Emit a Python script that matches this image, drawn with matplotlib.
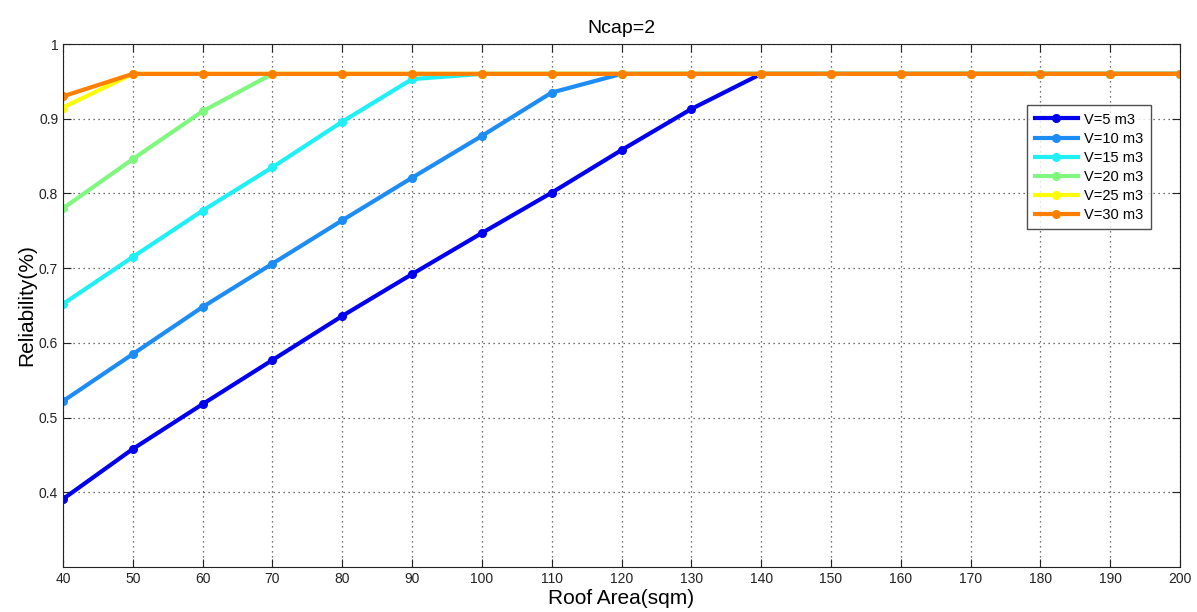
import numpy as np
import matplotlib
matplotlib.use("Agg")
import matplotlib.pyplot as plt

# Datos
area = [40, 50, 60, 70, 80, 90, 100, 110, 120, 130, 140, 150, 160, 170, 180, 190, 200]
v5 = [0.391, 0.458, 0.518, 0.577, 0.636, 0.692, 0.747, 0.801, 0.858, 0.913, 0.96,
      0.96, 0.96, 0.96, 0.96, 0.96, 0.96]
v10 = [0.522, 0.585, 0.648, 0.706, 0.764, 0.821, 0.877, 0.935, 0.96, 0.96, 0.96,
       0.96, 0.96, 0.96, 0.96, 0.96, 0.96]
v15 = [0.652, 0.715, 0.777, 0.835, 0.896, 0.953, 0.96, 0.96, 0.96, 0.96, 0.96,
       0.96, 0.96, 0.96, 0.96, 0.96, 0.96]
v20 = [0.78, 0.846, 0.91, 0.96, 0.96, 0.96, 0.96, 0.96, 0.96, 0.96, 0.96,
       0.96, 0.96, 0.96, 0.96, 0.96, 0.96]
v25 = [0.915, 0.96, 0.96, 0.96, 0.96, 0.96, 0.96, 0.96, 0.96, 0.96, 0.96,
       0.96, 0.96, 0.96, 0.96, 0.96, 0.96]
v30 = [0.93, 0.96, 0.96, 0.96, 0.96, 0.96, 0.96, 0.96, 0.96, 0.96, 0.96,
       0.96, 0.96, 0.96, 0.96, 0.96, 0.96]

series = [v5, v10, v15, v20, v25, v30]
labels = ['V=5 m3', 'V=10 m3', 'V=15 m3', 'V=20 m3', 'V=25 m3', 'V=30 m3']
colors = ['#0000ee', '#1e8cf5', '#1ef0f5', '#80f880', '#ffff00', '#ff8000']

plt.rcParams['font.family'] = ['Liberation Sans', 'DejaVu Sans']

fig = plt.figure(figsize=(11.97, 6.12), dpi=100)
ax = fig.add_axes([63 / 1197, 1 - 567 / 612, 1117 / 1197, 523 / 612])

for y, lab, c in zip(series, labels, colors):
    ax.plot(area, y, '-', color=c, lw=3, marker='o', ms=5.5, label=lab)

ax.set_xlim(40, 200)
ax.set_ylim(0.3, 1.0)
ax.set_xticks(np.arange(40, 201, 10))
ax.set_yticks([0.4, 0.5, 0.6, 0.7, 0.8, 0.9, 1.0])
ax.set_yticklabels(['0.4', '0.5', '0.6', '0.7', '0.8', '0.9', '1'])
ax.tick_params(direction='in', length=6, labelsize=10, colors='#222222', top=True, right=True)
ax.grid(True, linestyle=(0, (1, 3)), color='#444444', lw=0.9)
for s in ax.spines.values():
    s.set_color('#222222')

ax.set_xlabel('Roof Area(sqm)', fontsize=15, labelpad=2)
ax.set_ylabel('Reliability(%)', fontsize=15, labelpad=2)
ax.set_title('Ncap=2', fontsize=14, pad=8)

leg = ax.legend(loc='upper right', bbox_to_anchor=(1158 / 1197, 1 - 98 / 612),
                bbox_transform=fig.transFigure, fontsize=10.5, frameon=True, fancybox=False,
                handlelength=3.0, handletextpad=0.4, labelspacing=0.35, borderpad=0.5)
leg.get_frame().set_edgecolor('#222222')
leg.get_frame().set_linewidth(1.0)

plt.savefig('out.png', dpi=100)
